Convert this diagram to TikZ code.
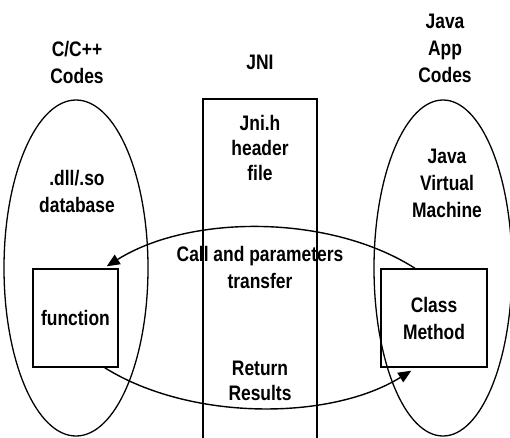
\documentclass[tikz,border=0pt]{standalone}
\usepackage{fontspec}
\setmainfont{Liberation Sans}[FakeStretch=0.83]
\usetikzlibrary{shapes.geometric,arrows.meta}
\begin{document}
\begin{tikzpicture}[x=1pt,y=-1pt,
  lab/.style={align=center,font=\bfseries\fontsize{21}{27}\selectfont,inner sep=0pt},
  tight/.style={font=\bfseries\fontsize{21}{25}\selectfont},
  oval/.style={draw,ellipse,line width=1.3pt,inner sep=0pt},
  boxnode/.style={draw,rectangle,line width=1.4pt,inner sep=0pt,align=center,font=\bfseries\fontsize{21}{27}\selectfont},
  flow/.style={line width=1.4pt,-{Triangle[length=13pt,width=11pt]}}]
\useasboundingbox (0,0) rectangle (510,437);
\fill[white] (0,0) rectangle (510,437);
% ellipses
\node[oval,minimum width=144pt,minimum height=336pt] (lov) at (76,268) {};
\node[oval,minimum width=138pt,minimum height=336pt] (rov) at (443,268) {};
% JNI column
\node[draw,rectangle,line width=1.4pt,minimum width=114pt,minimum height=400pt,inner sep=0pt] (jcol) at (260,299) {};
% headings
\node[lab] (ccodes) at (77,62.5) {C/C++\\Codes};
\node[lab] (jni) at (260,62) {JNI};
\node[lab] (jcodes) at (445,48) {Java\\App\\Codes};
% inner labels
\node[lab,tight] (jnih) at (260,147.5) {Jni.h\\header\\file};
\node[lab] (dll) at (77,191.5) {.dll/.so\\database};
\node[lab] (jvm) at (447,183) {Java\\Virtual\\Machine};
% boxes
\node[boxnode,minimum width=85pt,minimum height=98pt] (fn) at (75.5,318) {function};
\node[boxnode,minimum width=106pt,minimum height=98pt] (cm) at (434,318) {Class\\Method};
% arrow labels
\node[lab] (call) at (260,267) {Call and parameters\\transfer};
\node[lab,tight] (ret) at (260,381) {Return\\Results};
% arrows
\coordinate (cstart) at ([xshift=-19pt]cm.north);
\coordinate (cend) at ([xshift=-12pt,yshift=2pt]fn.north east);
\coordinate (rstart) at ([xshift=-14pt]fn.south east);
\coordinate (rend) at ([xshift=31pt,yshift=-3pt]cm.south west);
\draw[flow] (cstart) .. controls (330,214) and (190,214) .. (cend);
\draw[flow] (rstart) .. controls (190,421) and (330,421) .. (rend);
\end{tikzpicture}
\end{document}
